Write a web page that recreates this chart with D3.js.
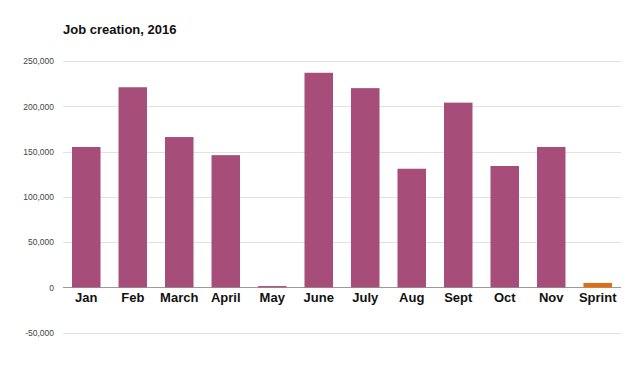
<!DOCTYPE html>
<html>
<head>
<meta charset="utf-8">
<script src="https://cdn.jsdelivr.net/npm/d3@7"></script>
<style>
  body { margin: 0; background: #fff; }
  svg { display: block; font-family: "Liberation Sans", Arial, sans-serif; }
  .title { font-size: 13px; font-weight: bold; fill: #111; }
  .yAxis text { font-size: 8.5px; fill: #444; }
  .xAxis text { font-size: 13px; font-weight: bold; fill: #111; }
</style>
</head>
<body>
<script>
//chart data
var months = ["Jan", "Feb", "March", "April", "May", "June", "July", "Aug", "Sept", "Oct", "Nov", "Sprint"];
var jobs = [155000, 221000, 166000, 146000, 1400, 237000, 220000, 131000, 204000, 134000, 155000, 4800];
var yTicks = [-50000, 0, 50000, 100000, 150000, 200000, 250000];
var highlight = "Sprint"; //the one bar drawn in orange

//wrap the drawing so names like "top" don't clash with window globals
(function(){
var w = 640, h = 368;
var plotLeft = 63, plotRight = 621, plotTop = 61, plotBottom = 332.6;

var svg = d3.select("body").append("svg")
  .attr("width", w)
  .attr("height", h);

//scales
var x = d3.scaleBand()
  .domain(months)
  .range([plotLeft, plotRight])
  .paddingInner(0.387)
  .paddingOuter(0.194);

var y = d3.scaleLinear()
  .domain([-50000, 250000])
  .range([plotBottom, plotTop]);

//gridlines
svg.append("g")
  .selectAll("line")
  .data(yTicks)
  .enter()
  .append("line")
  .attr("x1", plotLeft)
  .attr("x2", plotRight)
  .attr("y1", function(d){ return Math.round(y(d)) + 0.5; })
  .attr("y2", function(d){ return Math.round(y(d)) + 0.5; })
  .attr("stroke", function(d){ return d == 0 ? "#9a9a9a" : "#e2e2e2"; })
  .attr("stroke-width", 1);

//y labels - plain hyphen for negatives like the original
var fmt = d3.format(",");
var yAxis = svg.append("g")
  .attr("class", "yAxis")
  .attr("transform", "translate(" + (plotLeft - 9) + ",0)")
  .call(d3.axisLeft(y).tickValues(yTicks)
    .tickFormat(function(d){ return fmt(d).replace("\u2212", "-"); })
    .tickSize(0).tickPadding(0));
yAxis.select(".domain").remove();

//bars
svg.append("g")
  .selectAll("rect")
  .data(jobs)
  .enter()
  .append("rect")
  .attr("x", function(d, i){ return x(months[i]); })
  .attr("width", x.bandwidth())
  .attr("y", function(d){ return y(Math.max(d, 0)); })
  .attr("height", function(d){ return Math.abs(y(d) - y(0)); })
  .attr("fill", function(d, i){ return months[i] == highlight ? "#e36c12" : "#a64d79"; });

//x labels just under the zero line
var xAxis = svg.append("g")
  .attr("class", "xAxis")
  .attr("transform", "translate(0," + y(0) + ")")
  .call(d3.axisBottom(x).tickSize(0).tickPadding(5));
xAxis.select(".domain").remove();

//title
svg.append("text")
  .attr("class", "title")
  .attr("x", plotLeft)
  .attr("y", 34)
  .text("Job creation, 2016");
})();
</script>
</body>
</html>
